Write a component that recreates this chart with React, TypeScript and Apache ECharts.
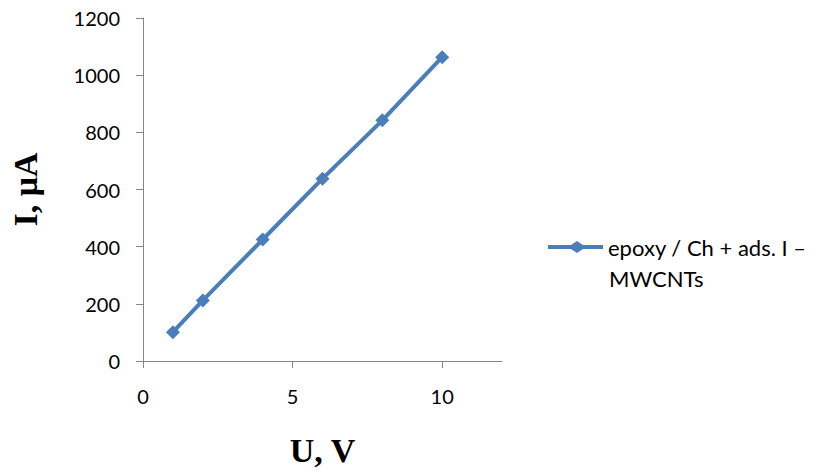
import React, { useEffect, useRef } from "react";
import * as echarts from "echarts";

const voltage = [1, 2, 4, 6, 8, 10];
const current = [101, 212, 425, 638, 842, 1063];
const seriesName = "epoxy / Ch + ads. I \u2013";
const seriesNameLine2 = "MWCNTs";
const xTicks = [0, 5, 10];

export default function App() {
  const ref = useRef<HTMLDivElement>(null);
  useEffect(() => {
    const chart = echarts.init(ref.current!, null, { renderer: "svg" });
    const axisColor = "#868686";
    const lineColor = "#4A7EBB";
    chart.setOption({
      animation: false,
      backgroundColor: "#ffffff",
      grid: { left: 143, top: 18, width: 359, height: 343, containLabel: false },
      xAxis: {
        type: "value",
        min: 0,
        max: 12,
        interval: 5,
        name: "U, V",
        nameLocation: "middle",
        nameGap: 72,
        nameTextStyle: { fontFamily: "Liberation Serif", fontWeight: "bold", fontSize: 34, color: "#000" },
        axisLine: { lineStyle: { color: axisColor, width: 1 } },
        axisTick: { show: true, length: 7, inside: false, lineStyle: { color: axisColor }, customValues: xTicks },
        axisLabel: { margin: 25, fontFamily: "Lato", fontSize: 20, color: "#000", customValues: xTicks, formatter: (v: number) => String(v) },
        splitLine: { show: false },
      },
      yAxis: {
        type: "value",
        min: 0,
        max: 1200,
        interval: 200,
        name: "I, \u03bcA",
        nameLocation: "middle",
        nameGap: 101,
        nameRotate: 90,
        nameTextStyle: { fontFamily: "Liberation Serif", fontWeight: "bold", fontSize: 34, color: "#000" },
        axisLine: { show: true, lineStyle: { color: axisColor, width: 1 } },
        axisTick: { show: true, length: 7, inside: false, lineStyle: { color: axisColor } },
        axisLabel: { margin: 23, fontFamily: "Lato", fontSize: 20, color: "#000", formatter: (v: number) => String(v) },
        splitLine: { show: false },
      },
      legend: {
        left: 548,
        top: 235,
        padding: 0,
        orient: "vertical",
        itemWidth: 55,
        itemHeight: 12,
        itemGap: 0,
        textStyle: {
          fontFamily: "Lato",
          fontSize: 22,
          color: "#000",
          lineHeight: 24,
        },
        data: [{ name: seriesName, icon: "path://M0,4 L23,4 L29,0 L35,4 L55,4 L55,8 L35,8 L29,12 L23,8 L0,8 Z" }],
      },
      graphic: [
        {
          type: "text",
          left: 609,
          top: 267,
          style: { text: seriesNameLine2, fontFamily: "Lato", fontSize: 22, fill: "#000" },
        },
      ],
      series: [
        {
          type: "line",
          name: seriesName,
          data: voltage.map((v, i) => [v, current[i]]),
          symbol: "diamond",
          symbolSize: 14,
          lineStyle: { color: lineColor, width: 4 },
          itemStyle: { color: lineColor },
        },
      ],
    });
    return () => chart.dispose();
  }, []);
  return (
    <div
      ref={ref}
      style={{ position: "fixed", left: 0, top: 0, width: 816, height: 472 }}
    />
  );
}
